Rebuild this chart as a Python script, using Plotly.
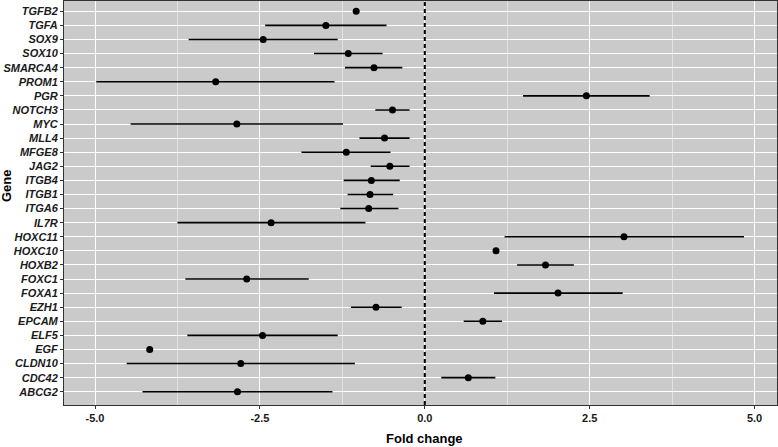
import plotly.graph_objects as go

# Genes from bottom to top
genes = ['ABCG2', 'CDC42', 'CLDN10', 'EGF', 'ELF5', 'EPCAM', 'EZH1', 'FOXA1',
         'FOXC1', 'HOXB2', 'HOXC10', 'HOXC11', 'IL7R', 'ITGA6', 'ITGB1', 'ITGB4',
         'JAG2', 'MFGE8', 'MLL4', 'MYC', 'NOTCH3', 'PGR', 'PROM1', 'SMARCA4',
         'SOX10', 'SOX9', 'TGFA', 'TGFB2']

# Fold change estimates and interval bounds
fold = [-2.84, 0.66, -2.79, -4.17, -2.46, 0.88, -0.74, 2.02,
        -2.70, 1.83, 1.08, 3.02, -2.33, -0.85, -0.83, -0.81,
        -0.53, -1.19, -0.61, -2.85, -0.49, 2.45, -3.17, -0.77,
        -1.16, -2.45, -1.50, -1.04]
lower = [-4.28, 0.25, -4.52, -4.17, -3.60, 0.59, -1.12, 1.05,
         -3.63, 1.40, 1.08, 1.21, -3.75, -1.28, -1.17, -1.23,
         -0.82, -1.87, -0.99, -4.46, -0.75, 1.49, -4.98, -1.21,
         -1.68, -3.58, -2.42, -1.04]
upper = [-1.40, 1.07, -1.06, -4.17, -1.32, 1.17, -0.35, 3.00,
         -1.76, 2.26, 1.08, 4.84, -0.90, -0.40, -0.48, -0.38,
         -0.23, -0.52, -0.23, -1.24, -0.23, 3.41, -1.37, -0.34,
         -0.64, -1.32, -0.58, -1.04]

x_ticks = [-5.0, -2.5, 0.0, 2.5, 5.0]

err_plus = [u - f for u, f in zip(upper, fold)]
err_minus = [f - l for f, l in zip(fold, lower)]

fig = go.Figure()
fig.add_trace(go.Scatter(
    x=fold, y=genes, mode='markers',
    marker=dict(color='black', size=7),
    error_x=dict(type='data', symmetric=False, array=err_plus,
                 arrayminus=err_minus, color='black', thickness=1.6, width=0),
    showlegend=False
))

# dashed reference line at zero
fig.add_shape(type='line', x0=0, x1=0, y0=0, y1=1, yref='paper',
              line=dict(color='black', width=2, dash='4px,3px'))

font_name = 'Liberation Sans, Arial, sans-serif'

fig.update_layout(
    width=778, height=447,
    margin=dict(l=64, r=1, t=1, b=42),
    plot_bgcolor='#cacaca',
    paper_bgcolor='white',
    font=dict(family=font_name, color='#1a1a1a'),
)

fig.update_xaxes(
    range=[-5.47, 5.34],
    automargin=False,
    tickvals=x_ticks,
    ticktext=[f'{v:.1f}' for v in x_ticks],
    tickfont=dict(size=11, weight='bold', color='#1a1a1a'),
    ticks='outside', ticklen=3, tickcolor='#333333',
    showgrid=True, gridcolor='white', gridwidth=1.2,
    minor=dict(dtick=1.25, tick0=0, showgrid=True, gridcolor='#e2e2e2', gridwidth=0.6),
    zeroline=False,
    showline=True, linecolor='#333333', linewidth=1, mirror=True,
)

fig.update_yaxes(
    type='category',
    automargin=False,
    categoryorder='array', categoryarray=genes,
    range=[-0.94, 27.73],
    tickfont=dict(size=11, weight='bold', style='italic', color='#1a1a1a'),
    ticks='outside', ticklen=3, tickcolor='#333333',
    showgrid=True, gridcolor='white', gridwidth=1.2,
    zeroline=False,
    showline=True, linecolor='#333333', linewidth=1, mirror=True,
)

# axis titles
fig.add_annotation(text='Fold change', xref='paper', yref='paper',
                   x=0.505, y=-0.084, xanchor='center', yanchor='middle',
                   showarrow=False,
                   font=dict(size=13, weight='bold', color='black'))
fig.add_annotation(text='Gene', xref='paper', yref='paper',
                   x=-0.0813, y=0.542, xanchor='center', yanchor='middle',
                   showarrow=False, textangle=-90,
                   font=dict(size=13, weight='bold', color='black'))

# drop the browser's default page margin so the figure fills the window
fig.write_html('out.html', config={'displayModeBar': False},
               post_script="document.body.style.margin='0';")
